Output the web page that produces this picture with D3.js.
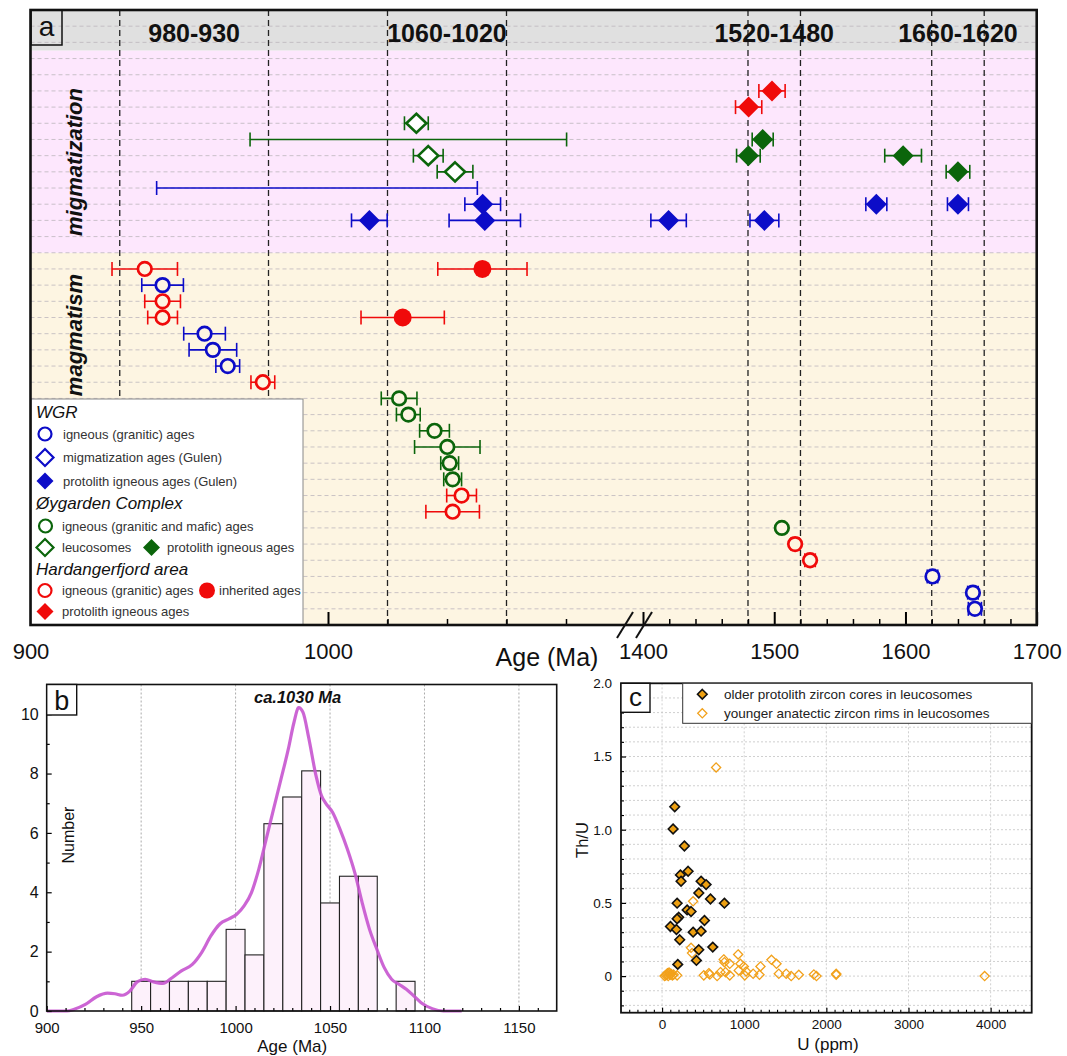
<!DOCTYPE html>
<html><head><meta charset="utf-8">
<script src="https://cdn.jsdelivr.net/npm/d3@7"></script>
<style>body{margin:0;background:#fff} svg{display:block}</style>
</head><body><svg id="c" width="1067" height="1056"></svg>
<script>
// ================= DATA =================
// Panel a: [row index, age (Ma), error (Ma)]
const wgrIgneous   = [[21,944.4,7],[18,958.5,7],[17,961.3,8],[16,966.3,4],[3,1620.6,4],[2,1651.4,4],[1,1652.9,5]];
const wgrProtolith = [[26,1052,6],[26,1577.8,8],[26,1640,8],[25,1013.9,6],[25,1052.7,12],[25,1419.5,13.5],[25,1492.5,11]];
const wgrMigRange  = [[27,996.3,53.9]];
const oyIgneous    = [[14,1023.9,6],[13,1027,4],[12,1035.8,5],[11,1040.1,11],[10,1040.9,3],[9,1041.9,3],[6,1505.8,2]];
const oyLeucosome  = [[31,1029.7,4],[29,1033.7,5],[28,1042.7,6]];
const oyLeucoRange = [[30,1027,53.2]];
const oyProtolith  = [[30,1491.2,8],[29,1480.3,9],[29,1598.2,14],[28,1640,9]];
const hfIgneous    = [[22,938.4,11],[20,944.4,6],[19,944.4,5],[15,978.1,4],[8,1044.9,5],[7,1041.9,9],[5,1515.9,3],[4,1527.3,4]];
const hfInherited  = [[22,1051.9,15],[19,1025.1,14]];
const hfProtolith  = [[33,1498.3,10],[32,1480.5,10]];
const periodBands  = [[930,980,"980-930"],[1020,1060,"1060-1020"],[1480,1520,"1520-1480"],[1620,1660,"1660-1620"]];
const periodLines  = [930,980,1020,1060,1480,1520,1620,1660];
const aTicksLeftMajor  = [900,1000];
const aTicksLeftMinor  = [920,940,960,980,1020,1040,1060,1080];
const aTicksRightMajor = [1400,1500,1600,1700];
const aTicksRightMinor = [1420,1440,1460,1480,1520,1540,1560,1580,1620,1640,1660,1680];

// Panel b: histogram (bin start, 10 Ma wide) and density curve
const binStarts = [945,955,965,975,985,995,1005,1015,1025,1035,1045,1055,1065,1085];
const binCounts = [1,1,1,1,1,2.75,1.89,6.31,7.21,8.09,3.64,4.54,4.54,1];
const kdeAge = [900,910.7,914.6,920.5,926.4,932.2,936.1,940,944,947.9,952.1,956.6,961.5,966.4,971.3,977.1,982,986.9,991.8,996.7,1000.6,1004.5,1008.4,1012.3,1016.2,1020.1,1024,1027.9,1030.9,1033.4,1035.7,1038.7,1042.6,1045.5,1047.5,1051.4,1055.3,1059.2,1063.1,1067,1070.9,1074.8,1078.7,1082.6,1086.5,1090.4,1094.3,1098.2,1104.1,1110,1119.7];
const kdeDensity = [0,0,0.06,0.22,0.48,0.6,0.58,0.53,0.67,0.98,1.07,0.98,0.93,1.12,1.35,1.57,1.97,2.53,2.94,3.11,3.26,3.54,3.99,4.78,5.79,6.8,7.8,8.82,9.72,10.22,10.06,9.21,7.92,7.25,7.02,6.69,6.12,5.45,4.66,3.65,2.75,2.08,1.46,1.07,0.9,0.73,0.51,0.28,0.08,0,0];
const bTicksX = [900,950,1000,1050,1100,1150];
const bTicksY = [0,2,4,6,8,10];

// Panel c: U (ppm) vs Th/U
const coresU   = [154,134,272,317,223,231,475,536,447,589,759,183,305,353,203,183,102,175,516,378,475,215,447,617,418,191];
const coresThU = [1.157,1.005,0.889,0.716,0.691,0.648,0.648,0.625,0.568,0.527,0.498,0.498,0.452,0.441,0.402,0.391,0.339,0.318,0.380,0.300,0.307,0.248,0.180,0.198,0.107,0.080];
const rimsU    = [658,378,353,365,751,759,824,926,954,995,934,1023,1198,1332,1393,1421,1109,1186,1007,824,772,711,670,569,508,581,183,1511,1572,1665,1848,1880,2120,2120,3927,30,45,60,75,90,100,110,125,140,65,85];
const rimsThU  = [1.425,0.511,0.193,0.157,0.114,0.095,0.084,0.148,0.084,0.066,0.039,0.032,0.066,0.111,0.084,0.016,0.016,0.009,0.005,0.005,0.027,0.027,0,0.02,0.005,0.011,0.005,0.016,0,0.009,0.011,0,0.016,0.009,0,0,0.005,0.01,0,0.02,0.01,0.015,0.005,0.01,0.02,0.025];
const cTicksX = [0,1000,2000,3000,4000];
const cTicksY = [0,0.5,1.0,1.5,2.0];

// ================= DRAW =================
const FONT = '"Liberation Sans", Arial, Helvetica, sans-serif';
const BLUE = "#0c0cc8", GREEN = "#0b650b", RED = "#f00a0a";
const BEIGE = "#fdf5e2", PINK = "#fde7fd", GRAY = "#e0e0e0";
const svg = d3.select("#c");
svg.append("rect").attr("width",1067).attr("height",1056).attr("fill","#fff");
const dPath = (w,h) => `M0,${-h}L${w},0L0,${h}L${-w},0Z`;

function txt(g, x, y, s, o = {}) {
  const t = g.append("text").attr("x", x).attr("y", y).text(s)
    .attr("font-family", FONT).attr("font-size", o.size || 14)
    .attr("fill", o.fill || "#111")
    .attr("text-anchor", o.anchor || "start");
  if (o.weight) t.attr("font-weight", o.weight);
  if (o.style) t.attr("font-style", o.style);
  if (o.rotate) t.attr("transform", `rotate(${o.rotate},${x},${y})`);
  if (o.dy) t.attr("dy", o.dy);
  return t;
}
function styleAxis(g, fs, w) {
  g.select(".domain").remove();
  g.selectAll("line").attr("stroke", "#000").attr("stroke-width", w || 1.5);
  g.selectAll("text").attr("font-family", FONT).attr("font-size", fs).attr("fill", "#111");
}

// ---------- Panel a ----------
const A = {l: 30.5, r: 1036.7, t: 10, b: 625};
const xL = d3.scaleLinear().domain([900, 1100]).range([30.5, 625.5]);
const xR = d3.scaleLinear().domain([1400, 1700]).range([643, 1036.7]);
const xa = v => v < 1250 ? xL(v) : xR(v);
const ya = d3.scaleLinear().domain([0, 38]).range([625, 10]);
const gA = svg.append("g");

gA.append("rect").attr("x", A.l).attr("width", A.r - A.l).attr("y", ya(23)).attr("height", ya(0) - ya(23)).attr("fill", BEIGE);
gA.append("rect").attr("x", A.l).attr("width", A.r - A.l).attr("y", ya(35.5)).attr("height", ya(23) - ya(35.5)).attr("fill", PINK);
gA.append("rect").attr("x", A.l).attr("width", A.r - A.l).attr("y", ya(38)).attr("height", ya(35.5) - ya(38)).attr("fill", GRAY);

gA.selectAll("line.hg").data(d3.range(1, 38)).join("line")
  .attr("x1", A.l).attr("x2", A.r).attr("y1", d => ya(d)).attr("y2", d => ya(d))
  .attr("stroke", "#bdb6bd").attr("stroke-width", 0.8).attr("stroke-dasharray", "4,3");

gA.selectAll("line.vp").data(periodLines).join("line")
  .attr("x1", d => xa(d)).attr("x2", d => xa(d)).attr("y1", A.t).attr("y2", A.b)
  .attr("stroke", "#222").attr("stroke-width", 1.3).attr("stroke-dasharray", "6,4");

periodBands.forEach(([a, b, s]) => txt(gA, (xa(a) + xa(b)) / 2, 42, s, {size: 25, weight: "bold", anchor: "middle"}));

txt(gA, 74, 162, "migmatization", {size: 22, weight: "bold", style: "italic", anchor: "middle", rotate: -90, dy: "0.35em"});
txt(gA, 74, 335, "magmatism", {size: 22, weight: "bold", style: "italic", anchor: "middle", rotate: -90, dy: "0.35em"});

// error bars
function errBar(g, data, color) {
  data.forEach(([row, age, err]) => {
    const y = ya(row), x1 = xa(age - err), x2 = xa(age + err);
    g.append("line").attr("x1", x1).attr("x2", x2).attr("y1", y).attr("y2", y).attr("stroke", color).attr("stroke-width", 1.6);
    [x1, x2].forEach(x => g.append("line").attr("x1", x).attr("x2", x).attr("y1", y - 7).attr("y2", y + 7).attr("stroke", color).attr("stroke-width", 1.6));
  });
}
function marks(g, data, color, shape, fill) {
  data.forEach(([row, age]) => {
    const x = xa(age), y = ya(row);
    if (shape === "oc") g.append("circle").attr("cx", x).attr("cy", y).attr("r", 6.8).attr("fill", fill).attr("stroke", color).attr("stroke-width", 2.7);
    if (shape === "fc") g.append("circle").attr("cx", x).attr("cy", y).attr("r", 9).attr("fill", color);
    if (shape === "od") g.append("path").attr("d", dPath(10, 9.5)).attr("transform", `translate(${x},${y})`).attr("fill", "#fff").attr("stroke", color).attr("stroke-width", 2.6);
    if (shape === "fd") g.append("path").attr("d", dPath(10.5, 10.5)).attr("transform", `translate(${x},${y})`).attr("fill", color);
  });
}
const series = [
  [wgrMigRange, BLUE, null], [oyLeucoRange, GREEN, null],
  [wgrIgneous, BLUE, "oc"], [wgrProtolith, BLUE, "fd"],
  [oyIgneous, GREEN, "oc"], [oyLeucosome, GREEN, "od"], [oyProtolith, GREEN, "fd"],
  [hfIgneous, RED, "oc"], [hfInherited, RED, "fc"], [hfProtolith, RED, "fd"]
];
series.forEach(([d, c]) => errBar(gA, d, c));
series.forEach(([d, c, s]) => { if (s) marks(gA, d, c, s, BEIGE); });

// axes (ticks inside)
const axG = gA.append("g").attr("transform", `translate(0,${A.b})`);
axG.append("g").call(d3.axisBottom(xL).tickValues(aTicksLeftMinor).tickSizeInner(-6).tickSizeOuter(0).tickFormat("")).call(g => styleAxis(g, 22));
axG.append("g").call(d3.axisBottom(xR).tickValues(aTicksRightMinor).tickSizeInner(-6).tickSizeOuter(0).tickFormat("")).call(g => styleAxis(g, 22));
axG.append("g").call(d3.axisBottom(xL).tickValues(aTicksLeftMajor).tickSizeInner(-13).tickSizeOuter(0).tickPadding(18).tickFormat(d3.format("d"))).call(g => styleAxis(g, 22, 2));
axG.append("g").call(d3.axisBottom(xR).tickValues(aTicksRightMajor).tickSizeInner(-13).tickSizeOuter(0).tickPadding(18).tickFormat(d3.format("d"))).call(g => styleAxis(g, 22, 2));
txt(gA, 547, 666, "Age (Ma)", {size: 25, anchor: "middle"});

// legend
const L = gA.append("g");
L.append("rect").attr("x", 31).attr("y", 399).attr("width", 272).attr("height", 226).attr("fill", "#fff").attr("stroke", "#888").attr("stroke-width", 1);
const lt = (x, y, s) => txt(L, x, y, s, {size: 13, fill: "#333"});
const lh = (y, s) => txt(L, 36, y, s, {size: 17, style: "italic", fill: "#111"});
const lc = (x, y, c, filled) => filled ? L.append("circle").attr("cx", x).attr("cy", y).attr("r", 8).attr("fill", c)
  : L.append("circle").attr("cx", x).attr("cy", y).attr("r", 6.5).attr("fill", "none").attr("stroke", c).attr("stroke-width", 2.2);
const ld = (x, y, c, filled) => L.append("path").attr("d", dPath(8.5, 8.5)).attr("transform", `translate(${x},${y})`)
  .attr("fill", filled ? c : "#fff").attr("stroke", filled ? "none" : c).attr("stroke-width", 2.2);
lh(418, "WGR");
lc(45, 434, BLUE, false); lt(63, 438.5, "igneous (granitic) ages");
ld(45, 457.5, BLUE, false); lt(63, 462, "migmatization ages (Gulen)");
ld(45, 481, BLUE, true); lt(63, 485.5, "protolith igneous ages (Gulen)");
lh(509, "Øygarden Complex");
lc(45.5, 526, GREEN, false); lt(62, 530.5, "igneous (granitic and mafic) ages");
ld(45, 547.5, GREEN, false); lt(62, 552, "leucosomes");
ld(151.5, 547.5, GREEN, true); lt(167, 552, "protolith igneous ages");
lh(575, "Hardangerfjord area");
lc(45, 590.5, RED, false); lt(62, 595, "igneous (granitic) ages");
lc(207, 590.5, RED, true); lt(219, 595, "inherited ages");
ld(45, 611.5, RED, true); lt(62, 616, "protolith igneous ages");

// frame
gA.append("rect").attr("x", A.l).attr("y", A.t).attr("width", A.r - A.l).attr("height", A.b - A.t)
  .attr("fill", "none").attr("stroke", "#111").attr("stroke-width", 2.6);
// axis break
gA.append("line").attr("x1", 617).attr("y1", 638).attr("x2", 633).attr("y2", 612).attr("stroke", "#111").attr("stroke-width", 2);
gA.append("line").attr("x1", 636).attr("y1", 638).attr("x2", 652).attr("y2", 612).attr("stroke", "#111").attr("stroke-width", 2);
// panel label a
gA.append("rect").attr("x", 31).attr("y", 10).attr("width", 31).attr("height", 35).attr("fill", "none").attr("stroke", "#111").attr("stroke-width", 1.5);
txt(gA, 46.5, 36, "a", {size: 28, anchor: "middle"});

// ---------- Panel b ----------
const B = {l: 46.7, r: 556.7, t: 684.5, b: 1011};
const xb = d3.scaleLinear().domain([900, 1170]).range([B.l, B.r]);
const yb = d3.scaleLinear().domain([0, 11]).range([B.b, B.t]);
const gB = svg.append("g");
gB.selectAll("line.vg").data(bTicksX.slice(1)).join("line")
  .attr("x1", d => xb(d)).attr("x2", d => xb(d)).attr("y1", B.t).attr("y2", B.b)
  .attr("stroke", "#aaa").attr("stroke-width", 1).attr("stroke-dasharray", "2,2");
gB.selectAll("rect.bar").data(binStarts).join("rect")
  .attr("x", d => xb(d)).attr("width", d => xb(d + 10) - xb(d))
  .attr("y", (d, i) => yb(binCounts[i])).attr("height", (d, i) => yb(0) - yb(binCounts[i]))
  .attr("fill", "#fdf1fb").attr("stroke", "#222").attr("stroke-width", 1.1);
gB.append("path").datum(kdeAge.map((a, i) => [a, kdeDensity[i]]))
  .attr("d", d3.line().x(d => xb(d[0])).y(d => yb(d[1])).curve(d3.curveMonotoneX))
  .attr("fill", "none").attr("stroke", "#c654cf").attr("stroke-width", 3.2).attr("stroke-opacity", 0.9);
const bx = gB.append("g").attr("transform", `translate(0,${B.b})`);
bx.append("g").call(d3.axisBottom(xb).tickValues(d3.range(910, 1170, 10).filter(v => v % 50)).tickSizeInner(-3).tickSizeOuter(0).tickFormat("")).call(g => styleAxis(g, 15, 1.2));
bx.append("g").call(d3.axisBottom(xb).tickValues(bTicksX).tickSizeInner(-5).tickSizeOuter(0).tickPadding(11).tickFormat(d3.format("d"))).call(g => styleAxis(g, 15, 1.2));
const by = gB.append("g").attr("transform", `translate(${B.l},0)`);
by.append("g").call(d3.axisLeft(yb).tickValues([1, 3, 5, 7, 9]).tickSizeInner(-3).tickSizeOuter(0).tickFormat("")).call(g => styleAxis(g, 15, 1.2));
by.append("g").call(d3.axisLeft(yb).tickValues(bTicksY).tickSizeInner(-5).tickSizeOuter(0).tickPadding(8).tickFormat(d3.format("d"))).call(g => styleAxis(g, 16, 1.2));
gB.append("rect").attr("x", B.l).attr("y", B.t).attr("width", B.r - B.l).attr("height", B.b - B.t)
  .attr("fill", "none").attr("stroke", "#111").attr("stroke-width", 1.6);
gB.append("rect").attr("x", B.l).attr("y", B.t).attr("width", 30).attr("height", 30.5).attr("fill", "#fff").attr("stroke", "#111").attr("stroke-width", 1.4);
txt(gB, B.l + 15, B.t + 25, "b", {size: 27, anchor: "middle"});
txt(gB, xb(1032.8), 703, "ca.1030 Ma", {size: 16.5, weight: "bold", style: "italic", anchor: "middle"});
txt(gB, 68, 835, "Number", {size: 16, anchor: "middle", rotate: -90, dy: "0.35em"});
txt(gB, xb(1030), 1052, "Age (Ma)", {size: 17, anchor: "middle"});

// ---------- Panel c ----------
const C = {l: 621, r: 1031.7, t: 683.3, b: 1012.7};
const xc = d3.scaleLinear().domain([-500, 4500]).range([C.l, C.r]);
const yc = d3.scaleLinear().domain([-0.25, 2.0]).range([C.b, C.t]);
const gC = svg.append("g");
gC.selectAll("line.hg").data(d3.range(-2, 20).map(v => v / 10)).join("line")
  .attr("x1", C.l).attr("x2", C.r).attr("y1", d => yc(d)).attr("y2", d => yc(d))
  .attr("stroke", "#c4c4c4").attr("stroke-width", 0.8).attr("stroke-dasharray", "2,2");
gC.selectAll("line.vg").data(cTicksX).join("line")
  .attr("x1", d => xc(d)).attr("x2", d => xc(d)).attr("y1", C.t).attr("y2", C.b)
  .attr("stroke", "#c4c4c4").attr("stroke-width", 0.8).attr("stroke-dasharray", "2,2");
gC.selectAll("path.rim").data(rimsU).join("path")
  .attr("d", dPath(4.6, 4.6)).attr("transform", (d, i) => `translate(${xc(d)},${yc(rimsThU[i])})`)
  .attr("fill", "none").attr("stroke", "#f2a11b").attr("stroke-width", 1.3);
gC.selectAll("path.core").data(coresU).join("path")
  .attr("d", dPath(4.8, 4.8)).attr("transform", (d, i) => `translate(${xc(d)},${yc(coresThU[i])})`)
  .attr("fill", "#eda012").attr("stroke", "#111").attr("stroke-width", 1.6);
const cx = gC.append("g").attr("transform", `translate(0,${C.b})`);
cx.append("g").call(d3.axisBottom(xc).tickValues(d3.range(-400, 4500, 100).filter(v => v % 1000)).tickSizeInner(-3).tickSizeOuter(0).tickFormat("")).call(g => styleAxis(g, 13.5, 1.1));
cx.append("g").call(d3.axisBottom(xc).tickValues(cTicksX).tickSizeInner(-5).tickSizeOuter(0).tickPadding(7).tickFormat(d3.format("d"))).call(g => styleAxis(g, 13.5, 1.2));
const cy = gC.append("g").attr("transform", `translate(${C.l},0)`);
cy.append("g").call(d3.axisLeft(yc).tickValues(d3.range(-2, 20).map(v => v / 10).filter(v => Math.round(v * 10) % 5)).tickSizeInner(-3).tickSizeOuter(0).tickFormat("")).call(g => styleAxis(g, 13.5, 1.1));
cy.append("g").call(d3.axisLeft(yc).tickValues(cTicksY).tickSizeInner(-5).tickSizeOuter(0).tickPadding(9).tickFormat(d => d === 0 ? "0" : d3.format(".1f")(d))).call(g => styleAxis(g, 13.5, 1.2));
gC.append("rect").attr("x", C.l).attr("y", C.t).attr("width", C.r - C.l).attr("height", C.b - C.t)
  .attr("fill", "none").attr("stroke", "#111").attr("stroke-width", 1.8);
// legend
gC.append("rect").attr("x", 682.7).attr("y", C.t).attr("width", C.r - 682.7).attr("height", 40).attr("fill", "#fff").attr("stroke", "#333").attr("stroke-width", 1);
gC.append("path").attr("d", dPath(4.8, 4.8)).attr("transform", "translate(702.3,694.3)").attr("fill", "#eda012").attr("stroke", "#111").attr("stroke-width", 1.6);
gC.append("path").attr("d", dPath(4.6, 4.6)).attr("transform", "translate(702.3,713.3)").attr("fill", "none").attr("stroke", "#f2a11b").attr("stroke-width", 1.3);
txt(gC, 724, 699, "older protolith zircon cores in leucosomes", {size: 13.5, fill: "#222"});
txt(gC, 724, 718, "younger anatectic zircon rims in leucosomes", {size: 13.5, fill: "#222"});
gC.append("rect").attr("x", C.l).attr("y", C.t).attr("width", 29).attr("height", 29).attr("fill", "#fff").attr("stroke", "#111").attr("stroke-width", 1.4);
txt(gC, C.l + 14.5, C.t + 23, "c", {size: 26, anchor: "middle"});
txt(gC, 828, 1050, "U (ppm)", {size: 17, anchor: "middle"});
txt(gC, 582, 840, "Th/U", {size: 16.5, anchor: "middle", rotate: -90, dy: "0.35em"});
</script>
</body></html>
